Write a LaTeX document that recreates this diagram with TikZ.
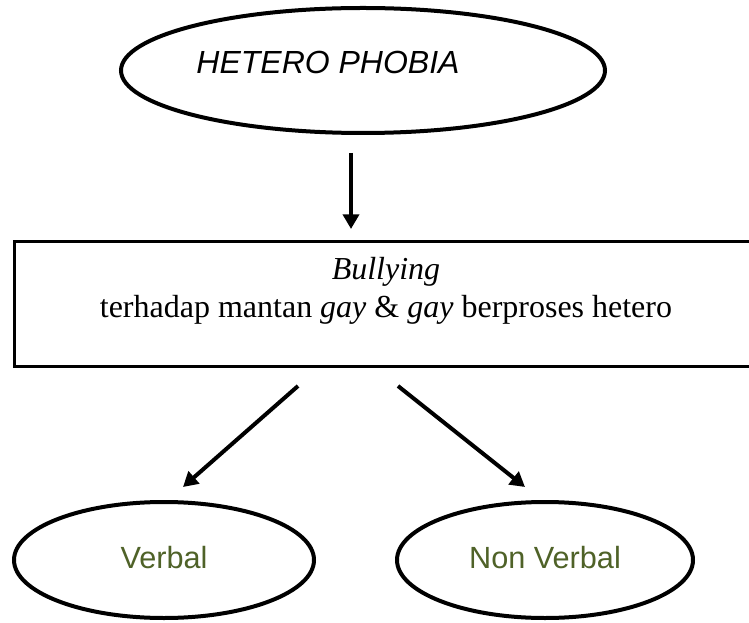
\documentclass[tikz,border=0pt]{standalone}
\usepackage{fontspec}
\setmainfont{Liberation Serif}
\newfontfamily\comicfont{Liberation Sans}
\usetikzlibrary{shapes.geometric,arrows.meta}
\definecolor{olivetxt}{RGB}{79,98,40}
\begin{document}
\begin{tikzpicture}[x=0.75pt,y=-0.75pt,
  oval/.style={draw=black,line width=3pt,ellipse,inner sep=0pt},
  boxstyle/.style={draw=black,line width=2.25pt,rectangle,inner sep=0pt},
  arr/.style={line width=3pt,-{Triangle[width=12pt,length=11pt]}},
  sanslabel/.style={font=\comicfont\fontsize{23}{27}\selectfont,anchor=base},
  seriflabel/.style={font=\fontsize{24}{28}\selectfont,anchor=base},
]
\useasboundingbox (0,0) rectangle (749,623);
% top ellipse
\node[oval,minimum width=363pt,minimum height=93.75pt] (top) at (363,70.5) {};
\node[sanslabel,font=\comicfont\itshape\fontsize{24}{28}\selectfont] (toptext) at (328,74) {HETERO PHOBIA};
% box
\node[boxstyle,minimum width=553.5pt,minimum height=93pt] (box) at (383,304) {};
\node[seriflabel] (bully) at (386,280) {\textit{Bullying}};
\node[seriflabel] (desc) at (386,318) {terhadap mantan \textit{gay} \& \textit{gay} berproses hetero};
% bottom ellipses
\node[oval,minimum width=225pt,minimum height=87pt] (verbal) at (164,560) {};
\node[sanslabel,text=olivetxt] (verbaltext) at (164,568) {Verbal};
\node[oval,minimum width=222pt,minimum height=87pt] (nonverbal) at (545,560) {};
\node[sanslabel,text=olivetxt] (nonverbaltext) at (545,568) {Non Verbal};
% arrow end points
\coordinate (a1s) at (351,153);
\coordinate (a1e) at (351,229);
\coordinate (a2s) at (298,386);
\coordinate (a2e) at (183,487);
\coordinate (a3s) at (398,386);
\coordinate (a3e) at (525,487);
\draw[arr] (a1s) -- (a1e);
\draw[arr] (a2s) -- (a2e);
\draw[arr] (a3s) -- (a3e);
\end{tikzpicture}
\end{document}
